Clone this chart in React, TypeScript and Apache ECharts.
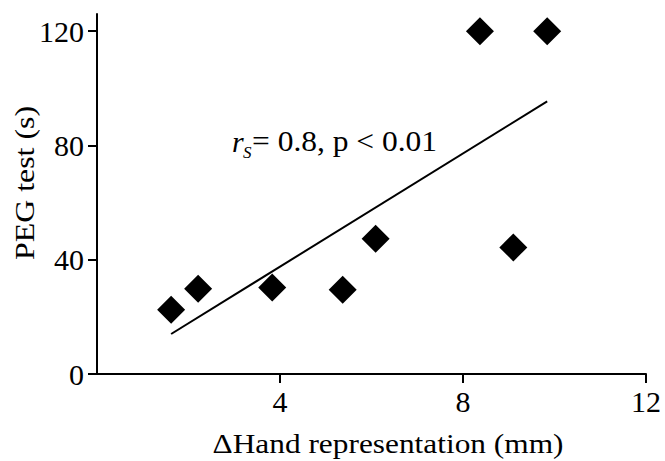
import React, { useEffect, useRef } from "react";
import * as echarts from "echarts";

const handX = [1.62, 2.21, 3.83, 5.37, 6.09, 8.37, 9.84, 9.10];
const pegY = [22.5, 29.8, 30.3, 29.5, 47.3, 120, 120, 44.3];
const fitX = [1.62, 9.84];
const fitY = [14.0, 95.4];
const xTicks = [4, 8, 12];
const yTicks = [0, 40, 80, 120];
const xName = "ΔHand representation (mm)";
const yName = "PEG test (s)";
const statR = "r";
const statS = "S";
const statRest = "= 0.8, p < 0.01";

const FONT = "'Liberation Serif', 'Times New Roman', serif";

export default function App() {
  const ref = useRef<HTMLDivElement>(null);
  useEffect(() => {
    document.body.style.margin = "0";
    const chart = echarts.init(ref.current!, null, { renderer: "svg" });
    const axisCommon = {
      axisLine: { show: true, lineStyle: { color: "#000", width: 2 } },
      axisTick: { show: true, length: 9, lineStyle: { color: "#000", width: 2 } },
      splitLine: { show: false },
    };
    chart.setOption({
      animation: false,
      backgroundColor: "#fff",
      grid: { left: 97, right: 19, top: 14, bottom: 87, containLabel: false },
      xAxis: {
        type: "value",
        min: 0,
        max: 12,
        interval: 4,
        ...axisCommon,
        axisTick: { ...axisCommon.axisTick, customValues: xTicks },
        axisLabel: {
          customValues: xTicks,
          color: "#000",
          fontFamily: FONT,
          fontSize: 30,
          margin: 12,
        },
      },
      yAxis: {
        type: "value",
        min: 0,
        max: 126,
        interval: 40,
        ...axisCommon,
        axisTick: { ...axisCommon.axisTick, customValues: yTicks },
        axisLabel: {
          customValues: yTicks,
          color: "#000",
          fontFamily: FONT,
          fontSize: 30,
          margin: 13,
        },
      },
      series: [
        {
          type: "line",
          data: fitX.map((x, i) => [x, fitY[i]]),
          showSymbol: false,
          symbol: "none",
          lineStyle: { color: "#000", width: 2 },
          z: 2,
        },
        {
          type: "scatter",
          data: handX.map((x, i) => [x, pegY[i]]),
          symbol: "diamond",
          symbolSize: 28,
          itemStyle: { color: "#000", opacity: 1 },
          z: 3,
        },
      ],
      graphic: [
        {
          type: "text",
          x: 24,
          y: 183,
          rotation: Math.PI / 2,
          scaleX: 1.14,
          style: {
            text: yName,
            font: `28px ${FONT}`,
            fill: "#000",
            align: "center",
            verticalAlign: "middle",
          },
        },
        {
          type: "text",
          x: 388,
          y: 443.5,
          scaleX: 1.12,
          style: {
            text: xName,
            font: `28px ${FONT}`,
            fill: "#000",
            align: "center",
            verticalAlign: "middle",
            lineHeight: 28,
          },
        },
        {
          type: "text",
          x: 232,
          y: 141.6,
          style: {
            text: statR,
            font: `italic 30px ${FONT}`,
            fill: "#000",
            align: "left",
            verticalAlign: "middle",
          },
        },
        {
          type: "text",
          x: 243,
          y: 152.3,
          style: {
            text: statS,
            font: `italic 17px ${FONT}`,
            fill: "#000",
            align: "left",
            verticalAlign: "middle",
          },
        },
        {
          type: "text",
          x: 252,
          y: 141.6,
          scaleX: 1.05,
          style: {
            text: statRest,
            font: `30px ${FONT}`,
            fill: "#000",
            align: "left",
            verticalAlign: "middle",
          },
        },
      ],
    });
    return () => chart.dispose();
  }, []);
  return <div ref={ref} style={{ width: 665, height: 461 }} />;
}
